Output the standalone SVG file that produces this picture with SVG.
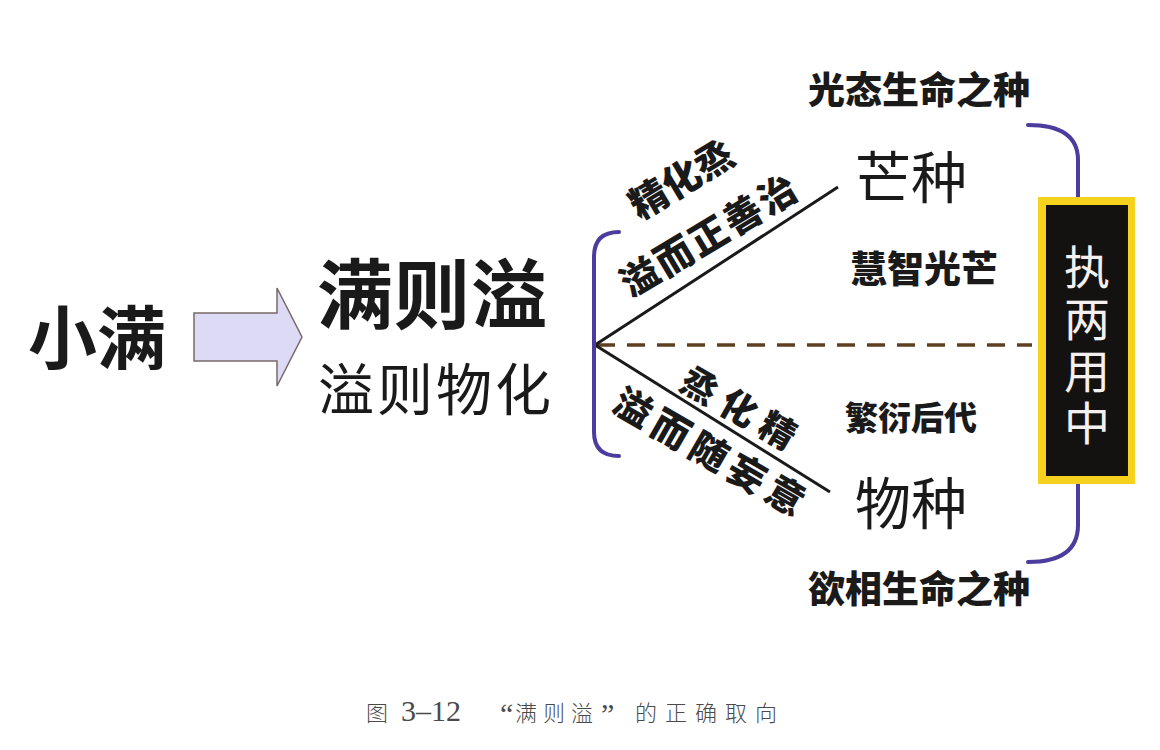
<svg xmlns="http://www.w3.org/2000/svg" width="1160" height="750" viewBox="0 0 1160 750">
  <style>
    .cjk { font-family: "Noto Sans CJK SC", "Liberation Sans", sans-serif; fill: #1a1a1a; }
    .b { font-weight: 700; }
    .h { font-weight: 900; }
    .r { font-weight: 400; }
    .brk { fill: none; stroke: #4b3c9e; stroke-width: 4; stroke-linecap: round; }
    .ln { stroke: #1a1a1a; stroke-width: 3; fill: none; }
    .dash { stroke: #5e4020; stroke-width: 3.5; stroke-dasharray: 18 12; fill: none; }
    .cap { font-family: "Noto Sans CJK SC", "Liberation Serif", serif; font-weight: 300; fill: #4a4a4a; font-size: 22px; }
    .capl { font-family: "Liberation Serif", serif; font-weight: 400; fill: #4a4a4a; }
  </style>
  <rect width="1160" height="750" fill="#ffffff"/>

  <g id="connectors">
    <path class="dash" d="M597,345 L1032,345"/>
    <path class="ln" d="M595,345 L838,187"/>
    <path class="ln" d="M595,345 L830,492"/>
    <path class="brk" d="M619,232 Q594,232 594,257 L594,432 Q594,456 619,456"/>
    <path class="brk" d="M1028,125 Q1078,125 1078,160 L1078,197"/>
    <path class="brk" d="M1078,484 L1078,525 Q1078,562 1028,562"/>
  </g>

  <g id="arrow">
    <polygon points="194,313 277,313 277,288 302,337 277,386 277,361 194,361" fill="#dcdaf5" stroke="#7a6868" stroke-width="1.5"/>
  </g>

  <g id="node-xiaoman">
    <text class="cjk b" x="28" y="364" font-size="69">小满</text>
  </g>

  <g id="node-manzeyi">
    <text class="cjk b" x="317" y="323" font-size="76" letter-spacing="1">满则溢</text>
    <text class="cjk r" x="318" y="410" font-size="56" letter-spacing="3">溢则物化</text>
  </g>

  <g id="label-upper">
    <text class="cjk h" font-size="38" text-anchor="middle" dominant-baseline="central" transform="translate(680,177) rotate(-31)">精化烝</text>
    <text class="cjk h" font-size="38" letter-spacing="2" text-anchor="middle" dominant-baseline="central" transform="translate(708,233) rotate(-31)">溢而正善治</text>
  </g>

  <g id="label-lower">
    <text class="cjk h" font-size="36" letter-spacing="9" text-anchor="middle" dominant-baseline="central" transform="translate(744,408) rotate(30)">烝化精</text>
    <text class="cjk h" font-size="38" letter-spacing="6" text-anchor="middle" dominant-baseline="central" transform="translate(713,451) rotate(30)">溢而随妄意</text>
  </g>

  <g id="node-mangzhong">
    <text class="cjk h" x="919" y="104" font-size="37" text-anchor="middle">光态生命之种</text>
    <text class="cjk r" x="855" y="198" font-size="56">芒种</text>
    <text class="cjk h" x="850" y="283" font-size="37">慧智光芒</text>
  </g>

  <g id="node-wuzhong">
    <text class="cjk h" x="845" y="430" font-size="33">繁衍后代</text>
    <text class="cjk r" x="855" y="524" font-size="56">物种</text>
    <text class="cjk h" x="919" y="603" font-size="37" text-anchor="middle">欲相生命之种</text>
  </g>

  <g id="node-zhiliang">
    <rect x="1038" y="197" width="97" height="287" fill="#f6d21e"/>
    <rect x="1046" y="205" width="82" height="271" fill="#141210"/>
    <text class="cjk r" x="1087" y="244" font-size="46" letter-spacing="6" style="fill:#f4f0f0; writing-mode: vertical-rl">执两用中</text>
  </g>

  <g id="caption">
    <text class="cap" x="366" y="721">图</text>
    <text class="capl" x="401" y="721" font-size="30">3–12</text>
    <text class="capl" x="500" y="724" font-size="30">“</text>
    <text class="cap" x="515" y="721" letter-spacing="6">满则溢</text>
    <text class="capl" x="601" y="724" font-size="30">”</text>
    <text class="cap" x="635" y="721" letter-spacing="8">的正确取向</text>
  </g>
</svg>
